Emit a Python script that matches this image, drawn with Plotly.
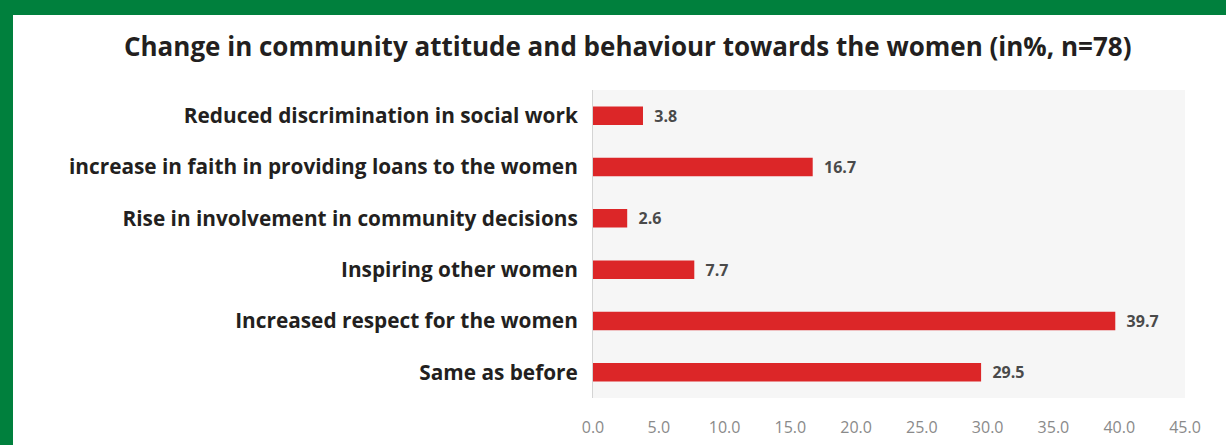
import plotly.graph_objects as go

# Survey responses (percent of respondents, n=78), top to bottom
categories = [
    "Reduced discrimination in social work",
    "increase in faith in providing loans to the women",
    "Rise in involvement in community decisions",
    "Inspiring other women",
    "Increased respect for the women",
    "Same as before",
]
values = [3.8, 16.7, 2.6, 7.7, 39.7, 29.5]
x_ticks = [0, 5, 10, 15, 20, 25, 30, 35, 40, 45]
x_tick_labels = [f"{t:.1f}" for t in x_ticks]

GREEN = "#00803d"
RED = "#dc2628"

fig = go.Figure(
    go.Bar(
        x=values,
        y=categories,
        orientation="h",
        marker=dict(color=RED, line=dict(width=0)),
        width=0.36,
        text=[f"{v:.1f}" for v in values],
        textposition="outside",
        constraintext="none",
        textfont=dict(family="Open Sans", size=16, color="#4a4a4a", weight="bold"),
        cliponaxis=False,
        hoverinfo="skip",
    )
)

fig.update_traces(texttemplate="  %{text}")

fig.update_layout(
    width=1226,
    height=445,
    margin=dict(l=593, r=41, t=90, b=47, autoexpand=False),
    paper_bgcolor="white",
    plot_bgcolor="#f6f6f6",
    showlegend=False,
    title=dict(
        text="<b>Change in community attitude and behaviour towards the women (in%, n=78)</b>",
        x=0.512,
        xanchor="center",
        y=0.894,
        yanchor="middle",
        font=dict(family="Open Sans", size=26, color="#231f20"),
    ),
    xaxis=dict(
        range=[0, 45],
        tickvals=x_ticks,
        ticktext=x_tick_labels,
        showgrid=False,
        zeroline=False,
        showline=False,
        ticks="",
        automargin=False,
        ticklabelstandoff=18,
        tickfont=dict(family="Open Sans", size=16, color="#8a8a8a"),
    ),
    yaxis=dict(
        categoryorder="array",
        categoryarray=categories[::-1],
        showgrid=False,
        zeroline=False,
        showline=True,
        linecolor="#d4d4d4",
        linewidth=1,
        ticks="",
        automargin=False,
        ticklabelstandoff=10,
        tickfont=dict(family="Open Sans", size=20.8, color="#231f20", weight="bold"),
    ),
    shapes=[
        # green frame along top and left edges
        dict(type="rect", xref="paper", yref="paper", x0=-593 / 592, x1=(592 + 41) / 592,
             y0=1 + 75 / 308, y1=1 + 90 / 308, fillcolor=GREEN, line=dict(width=0), layer="above"),
        dict(type="rect", xref="paper", yref="paper", x0=-593 / 592, x1=-580 / 592,
             y0=-47 / 308, y1=1 + 90 / 308, fillcolor=GREEN, line=dict(width=0), layer="above"),
    ],
)

fig.write_html("out.html")
